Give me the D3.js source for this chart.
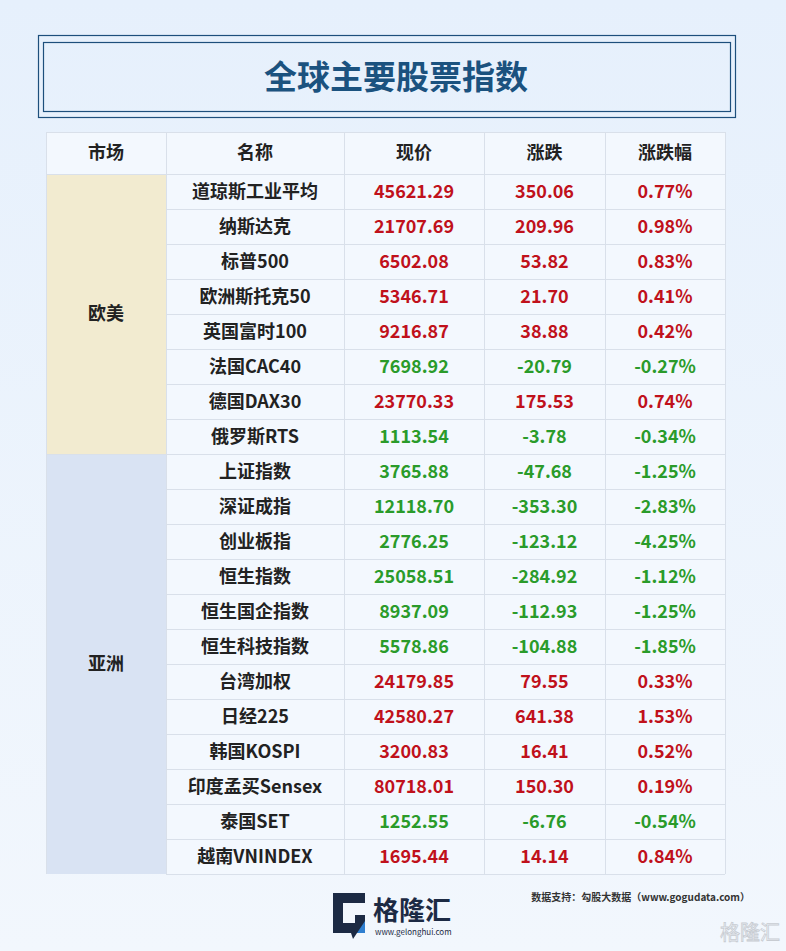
<!DOCTYPE html>
<html><head><meta charset="utf-8">
<script src="https://cdn.jsdelivr.net/npm/d3@7"></script>
<style>body{margin:0;background:#e9f2fc;}svg{display:block;font-family:"Noto Sans CJK SC","Noto Sans",sans-serif;}</style>
</head><body><div id="chart"></div>
<script>
const columns = ["市场", "名称", "现价", "涨跌", "涨跌幅"];
const names = ["道琼斯工业平均","纳斯达克","标普500","欧洲斯托克50","英国富时100","法国CAC40","德国DAX30","俄罗斯RTS",
  "上证指数","深证成指","创业板指","恒生指数","恒生国企指数","恒生科技指数","台湾加权","日经225","韩国KOSPI","印度孟买Sensex","泰国SET","越南VNINDEX"];
const prices = ["45621.29","21707.69","6502.08","5346.71","9216.87","7698.92","23770.33","1113.54",
  "3765.88","12118.70","2776.25","25058.51","8937.09","5578.86","24179.85","42580.27","3200.83","80718.01","1252.55","1695.44"];
const changes = [350.06,209.96,53.82,21.70,38.88,-20.79,175.53,-3.78,
  -47.68,-353.30,-123.12,-284.92,-112.93,-104.88,79.55,641.38,16.41,150.30,-6.76,14.14];
const pcts = [0.77,0.98,0.83,0.41,0.42,-0.27,0.74,-0.34,
  -1.25,-2.83,-4.25,-1.12,-1.25,-1.85,0.33,1.53,0.52,0.19,-0.54,0.84];
const markets = [{name:"欧美", start:0, end:8, fill:"#f2ebd0"},{name:"亚洲", start:8, end:20, fill:"#d9e3f3"}];

const W = 786, H = 951;
const svg = d3.select("#chart").append("svg").attr("width", W).attr("height", H);
const defs = svg.append("defs");
const g = defs.append("linearGradient").attr("id","bg").attr("x1",0).attr("y1",0).attr("x2",0).attr("y2",1);
g.append("stop").attr("offset","0%").attr("stop-color","#e6f0fc");
g.append("stop").attr("offset","100%").attr("stop-color","#f2f7fd");
svg.append("rect").attr("width",W).attr("height",H).attr("fill","url(#bg)");

// title box
svg.append("rect").attr("x",38.5).attr("y",35.5).attr("width",697).attr("height",82).attr("fill","none").attr("stroke","#1d4f7c").attr("stroke-width",1.2);
svg.append("rect").attr("x",43.5).attr("y",42.5).attr("width",687).attr("height",69).attr("fill","none").attr("stroke","#1d4f7c").attr("stroke-width",1.2);
svg.append("text").attr("x",396).attr("y",89).attr("text-anchor","middle").attr("font-size",33).attr("font-weight",700)
  .attr("fill","#1b527f").text("全球主要股票指数");

// table
const colEdges = [46,166,344,484,605,725];
const x = i => colEdges[i];
const cx = i => (colEdges[i]+colEdges[i+1])/2;
const headTop = 132, headH = 42;
const y = d3.scaleBand().domain(d3.range(names.length)).range([headTop+headH, headTop+headH+35*names.length]);
const tbl = svg.append("g");
tbl.append("rect").attr("x",46).attr("y",headTop).attr("width",679).attr("height",headH+35*names.length).attr("fill","#f3f8fe");

markets.forEach(m => {
  tbl.append("rect").attr("x",x(0)).attr("y",y(m.start)).attr("width",x(1)-x(0)).attr("height",y(m.end-1)+y.bandwidth()-y(m.start)).attr("fill",m.fill);
  tbl.append("text").attr("x",cx(0)).attr("y",(y(m.start)+y(m.end-1)+y.bandwidth())/2+6).attr("text-anchor","middle")
    .attr("font-size",18).attr("font-weight",700).attr("fill","#222").text(m.name);
});

const lc = "#d9e0ea";
tbl.selectAll(".hl").data(d3.range(names.length+1)).join("line")
  .attr("x1",166).attr("x2",725).attr("y1",i=>Math.round(y(0)+i*35)+0.5).attr("y2",i=>Math.round(y(0)+i*35)+0.5).attr("stroke",lc);
tbl.append("line").attr("x1",46).attr("x2",725).attr("y1",headTop+0.5).attr("y2",headTop+0.5).attr("stroke",lc);
tbl.append("line").attr("x1",46).attr("x2",166).attr("y1",y(0)+0.5).attr("y2",y(0)+0.5).attr("stroke",lc);
tbl.append("line").attr("x1",46).attr("x2",166).attr("y1",y(8)+0.5).attr("y2",y(8)+0.5).attr("stroke",lc);
const yEnd = y(names.length-1)+y.bandwidth();
tbl.selectAll(".vl").data(colEdges).join("line")
  .attr("x1",d=>d+0.5).attr("x2",d=>d+0.5).attr("y1",headTop).attr("y2",yEnd).attr("stroke",lc);

tbl.selectAll(".hd").data(columns).join("text").attr("x",(d,i)=>cx(i)).attr("y",headTop+headH/2+6)
  .attr("text-anchor","middle").attr("font-size",18).attr("font-weight",700).attr("fill","#222").text(d=>d);

const red = "#c0111b", green = "#2a9b2a";
const rows = tbl.selectAll(".row").data(names.map((n,i)=>({n,i}))).join("g")
  .attr("transform",d=>`translate(0,${y(d.i)+y.bandwidth()/2+6})`);
rows.append("text").attr("x",cx(1)).attr("text-anchor","middle").attr("font-size",18).attr("font-weight",700).attr("fill","#222").text(d=>d.n);
const col = d => changes[d.i] >= 0 ? red : green;
rows.append("text").attr("x",cx(2)).attr("text-anchor","middle").attr("font-size",18).attr("font-weight",700).attr("fill",col).text(d=>prices[d.i]);
rows.append("text").attr("x",cx(3)).attr("text-anchor","middle").attr("font-size",18).attr("font-weight",700).attr("fill",col).text(d=>changes[d.i].toFixed(2));
rows.append("text").attr("x",cx(4)).attr("text-anchor","middle").attr("font-size",18).attr("font-weight",700).attr("fill",col).text(d=>pcts[d.i].toFixed(2)+"%");

// footer
svg.append("text").attr("x",750).attr("y",901).attr("text-anchor","end").attr("font-size",10).attr("font-weight",700).attr("fill","#333")
  .text("数据支持：勾股大数据（www.gogudata.com）");
const logo = svg.append("g").attr("transform","translate(333,893)");
logo.append("path").attr("d","M0,0 H32 V10 H10 V30 H22 V22 H32 V40 L24,40 L20,46 L18,40 H0 Z").attr("fill","#1c2a44");
logo.append("path").attr("d","M20,40 L24,40 L32,28 V40 Z").attr("fill","#2f7fd0");
logo.append("text").attr("x",40).attr("y",27).attr("font-size",26).attr("font-weight",700).attr("fill","#1c2a44").text("格隆汇");
logo.append("text").attr("x",42).attr("y",42).attr("font-size",8).attr("fill","#1c2a44").text("www.gelonghui.com");
svg.append("text").attr("x",780).attr("y",940).attr("text-anchor","end").attr("font-size",20).attr("fill","none").attr("stroke","#c8ccd2").attr("stroke-width",0.8).text("格隆汇");
</script></body></html>
